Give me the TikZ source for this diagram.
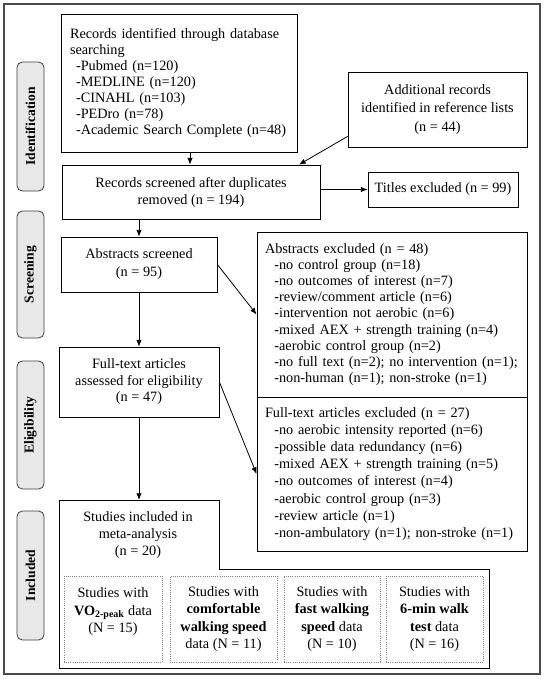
\documentclass[tikz,border=0pt]{standalone}
\usepackage{fontspec}
\setmainfont{Liberation Serif}
\usetikzlibrary{arrows.meta,calc}
\begin{document}
\begin{tikzpicture}[x=0.75pt,y=-0.75pt,
  box/.style={draw=black,line width=0.6pt,inner sep=0pt,align=center,font=\fontsize{10.7}{12.75}\selectfont},
  listbox/.style={draw=black,line width=0.6pt,inner ysep=0pt,align=left,font=\fontsize{10.7}{12.1}\selectfont},
  dotbox/.style={draw=gray,densely dotted,line width=0.6pt,inner sep=0pt,align=center,minimum height=64.5pt,font=\fontsize{10.7}{13.1}\selectfont},
  side/.style={draw=black!75,fill=black!9,line width=0.6pt,rounded corners=4pt,rotate=90,minimum height=20.25pt,inner sep=0pt,font=\fontsize{10.2}{12}\selectfont\bfseries},
  arr/.style={line width=0.6pt,-{Latex[length=5pt,width=4pt]}}
]
\useasboundingbox (0,0) rectangle (544,679);
\draw[draw=black!70,line width=1pt] (4,4) rectangle (540,674);

% side labels
\node[side,minimum width=96.75pt] (sid) at (30.5,126.5) {Identification};
\node[side,minimum width=95.25pt] (sscr) at (30.5,274.5) {Screening};
\node[side,minimum width=96pt] (selg) at (30.5,425) {Eligibility};
\node[side,minimum width=96.75pt] (sinc) at (30.5,575.5) {Included};

% boxes
\node[listbox,minimum width=177pt,minimum height=103.5pt,inner xsep=6.75pt,text width=163.5pt] (b1) at (179,83)
 {Records identified through database\\searching\\
  \hspace*{4.5pt}-Pubmed (n=120)\\
  \hspace*{4.5pt}-MEDLINE (n=120)\\
  \hspace*{4.5pt}-CINAHL (n=103)\\
  \hspace*{4.5pt}-PEDro (n=78)\\
  \hspace*{4.5pt}-Academic Search Complete (n=48)};
\node[box,minimum width=193.5pt,minimum height=40.5pt] (b2) at (191,192)
 {Records screened after duplicates\\removed (n = 194)};
\node[box,minimum width=134.25pt,minimum height=56.25pt,font=\fontsize{10.7}{13.9}\selectfont] (add) at (437.5,109.5)
 {Additional records\\identified in reference lists\\(n = 44)};
\node[box,minimum width=112.5pt,minimum height=26.25pt] (tit) at (443,189.5)
 {Titles excluded (n = 99)};
\node[box,minimum width=117pt,minimum height=41.25pt,font=\fontsize{10.7}{13.5}\selectfont] (abs) at (139,264.5)
 {Abstracts screened\\(n = 95)};
\node[box,minimum width=120pt,minimum height=52.5pt,font=\fontsize{10.7}{12.4}\selectfont] (ft) at (139,382)
 {Full-text articles\\assessed for eligibility\\(n = 47)};
\node[listbox,minimum width=202.5pt,minimum height=123.75pt,inner xsep=6pt,text width=190.5pt] (ex1) at (392,314.5)
 {Abstracts excluded (n = 48)\\
  \hspace*{7pt}-no control group (n=18)\\
  \hspace*{7pt}-no outcomes of interest (n=7)\\
  \hspace*{7pt}-review/comment article (n=6)\\
  \hspace*{7pt}-intervention not aerobic (n=6)\\
  \hspace*{7pt}-mixed AEX + strength training (n=4)\\
  \hspace*{7pt}-aerobic control group (n=2)\\
  \hspace*{7pt}-no full text (n=2); no intervention (n=1);\\
  \hspace*{7pt}-non-human (n=1); non-stroke (n=1)};
\node[listbox,minimum width=202.5pt,minimum height=115.5pt,inner xsep=6pt,text width=190.5pt,font=\fontsize{10.7}{12.8}\selectfont] (ex2) at (392,474)
 {Full-text articles excluded (n = 27)\\
  \hspace*{7pt}-no aerobic intensity reported (n=6)\\
  \hspace*{7pt}-possible data redundancy (n=6)\\
  \hspace*{7pt}-mixed AEX + strength training (n=5)\\
  \hspace*{7pt}-no outcomes of interest (n=4)\\
  \hspace*{7pt}-aerobic control group (n=3)\\
  \hspace*{7pt}-review article (n=1)\\
  \hspace*{7pt}-non-ambulatory (n=1); non-stroke (n=1)};

% included region
\draw[line width=0.6pt] (59,500) -- (219,500) -- (219,569) -- (489,569) -- (489,668) -- (59,668) -- cycle;
\coordinate (inctop) at (139,500);
\node[align=center,inner sep=0pt,font=\fontsize{10.7}{12.75}\selectfont] (inc) at (138,535)
 {Studies included in\\meta-analysis\\(n = 20)};
\node[dotbox,minimum width=73.5pt] (d1) at (113,619)
 {Studies with\\\textbf{VO\textsubscript{2-peak}} data\\(N = 15)\\\mbox{}};
\node[dotbox,minimum width=80.25pt] (d2) at (223.5,619)
 {Studies with\\\textbf{comfortable}\\\textbf{walking speed}\\data (N = 11)};
\node[dotbox,minimum width=72pt] (d3) at (332,619)
 {Studies with\\\textbf{fast walking}\\\textbf{speed} data\\(N = 10)};
\node[dotbox,minimum width=72.75pt] (d4) at (434.5,619)
 {Studies with\\\textbf{6-min walk}\\\textbf{test} data\\(N = 16)};

% connectors
\coordinate (x190) at (190,0);
\coordinate (x299) at (299,0);
\draw[arr] (b1.south -| x190) -- (b2.north -| x190);
\draw[arr] ($(add.south west)+(0,-11)$) -- (b2.north -| x299);
\draw[arr] (b2.east |- tit.west) -- (tit.west);
\draw[arr] (abs.north |- b2.south) -- (abs.north);
\draw[arr] (abs.south) -- (ft.north);
\draw[arr] (abs.east) -- (ex1.west);
\draw[arr] (ft.east) -- (ex2.west);
\draw[arr] (ft.south) -- (inctop);
\end{tikzpicture}
\end{document}
